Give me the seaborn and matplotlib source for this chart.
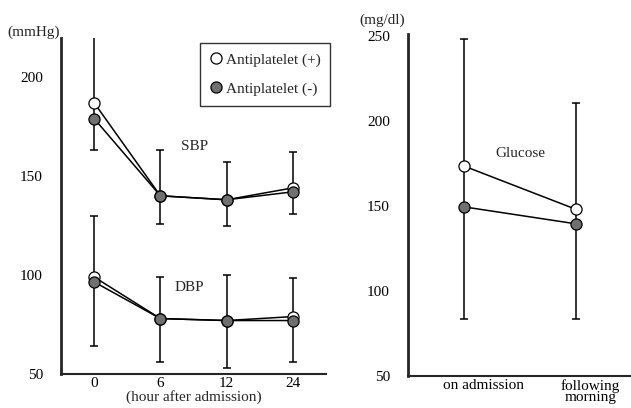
import numpy as np
import pandas as pd
import matplotlib
matplotlib.use("Agg")
import matplotlib.pyplot as plt
from matplotlib.lines import Line2D
import seaborn as sns

# ---- data ----
hours = ["0", "6", "12", "24"]
groups = ["Antiplatelet (+)", "Antiplatelet (-)"]
sbp_plus = [187, 140, 138, 144]
sbp_minus = [179, 140, 138, 142]
sbp_err_lo = [163, 126, 125, 131]
sbp_err_hi = [220, 163, 157, 162]
dbp_plus = [99, 78, 77, 79]
dbp_minus = [96.5, 78, 77, 77]
dbp_err_lo = [64, 56, 53, 56]
dbp_err_hi = [130, 99, 100, 98.5]

glu_times = ["on admission", "following\nmorning"]
glu_plus = [173.5, 148]
glu_minus = [149.5, 139.5]
glu_err_lo = [83.5, 83.5]
glu_err_hi = [248, 210.5]

sns.set_style("ticks")
plt.rcParams["font.family"] = ["Liberation Serif", "DejaVu Serif"]
plt.rcParams["font.size"] = 11

W, H = 631, 408
fig = plt.figure(figsize=(W / 100, H / 100), dpi=100)

def box(l, r, t, b):
    return [l / W, 1 - b / H, (r - l) / W, (b - t) / H]

ax1 = fig.add_axes(box(61, 326, 38, 374))
ax2 = fig.add_axes(box(408, 630, 34, 376))

face = {groups[0]: "white", groups[1]: "#707070"}

def draw(ax, cats, plus, minus, lo, hi):
    x = np.arange(len(cats))
    mid = (np.array(lo) + np.array(hi)) / 2
    ax.errorbar(x, mid, yerr=[mid - np.array(lo), np.array(hi) - mid], fmt="none",
                ecolor="black", elinewidth=1.1, capsize=3, capthick=1.1, zorder=1)
    df = pd.DataFrame({"x": np.concatenate([x, x]),
                       "y": plus + minus,
                       "g": [groups[0]] * len(x) + [groups[1]] * len(x)})
    for g in groups:
        sub = df[df.g == g]
        sns.lineplot(data=sub, x="x", y="y", ax=ax, color="black", lw=1.1,
                     marker="o", markersize=8, markerfacecolor=face[g],
                     markeredgecolor="black", markeredgewidth=0.9, zorder=3,
                     legend=False)

draw(ax1, hours, sbp_plus, sbp_minus, sbp_err_lo, sbp_err_hi)
draw(ax1, hours, dbp_plus, dbp_minus, dbp_err_lo, dbp_err_hi)
draw(ax2, glu_times, glu_plus, glu_minus, glu_err_lo, glu_err_hi)

# axes 1
ax1.set_xlim(-0.5, 3.5)
ax1.set_ylim(50, 219.7)
ax1.set_xticks(range(len(hours)))
ax1.set_xticklabels(hours)
ax1.set_yticks([50, 100, 150, 200])
ax1.set_xlabel("(hour after admission)", labelpad=0)
ax1.set_ylabel("")
ax1.text(1.52, 165, "SBP", ha="center", va="center")
ax1.text(1.43, 93.5, "DBP", ha="center", va="center")

# axes 2 (tick labels sit slightly right of the points, as in the original)
ax2.set_xlim(-0.5, 1.48)
ax2.set_ylim(50, 251.2)
ax2.set_xticks([0.17, 1.125])
ax2.set_xticklabels(glu_times, linespacing=0.85)
ax2.set_yticks([50, 100, 150, 200, 250])
ax2.set_xlabel("")
ax2.set_ylabel("")
ax2.text(0.5, 181, "Glucose", ha="center", va="center")

for ax in (ax1, ax2):
    for s in ("top", "right"):
        ax.spines[s].set_visible(False)
    ax.spines["left"].set_linewidth(2.0)
    ax.spines["bottom"].set_linewidth(1.5)
    ax.tick_params(axis="both", length=0, labelsize=11, colors="black")
    ax.tick_params(axis="y", pad=13)
    ax.tick_params(axis="x", pad=2)
    ax.set_facecolor("white")

# legend
handles = [Line2D([], [], ls="none", marker="o", markersize=8,
                  markerfacecolor=face[g], markeredgecolor="black",
                  markeredgewidth=0.9, label=g) for g in groups]
leg = ax1.legend(handles=handles, loc="upper right",
                 bbox_to_anchor=(1.016, 0.985), frameon=True, fancybox=False,
                 edgecolor="black", handletextpad=0.25, borderpad=0.65,
                 labelspacing=1.0, handlelength=0.8,
                 borderaxespad=0, fontsize=11)
leg.get_frame().set_linewidth(1.0)

fig.text(34 / W, 1 - 32 / H, "(mmHg)", ha="center", va="center", fontsize=11)
fig.text(382 / W, 1 - 20 / H, "(mg/dl)", ha="center", va="center", fontsize=11)

fig.savefig("out.png", dpi=100, facecolor="white")
